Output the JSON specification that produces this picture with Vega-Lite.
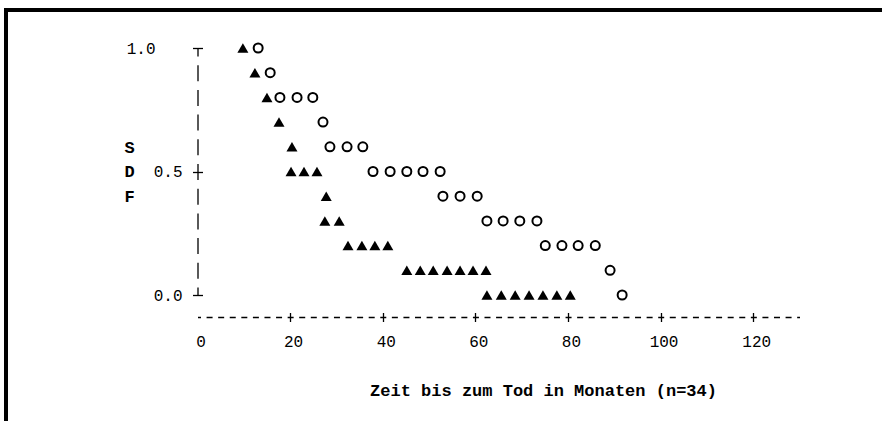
{
  "$schema": "https://vega.github.io/schema/vega-lite/v6.json",
  "autosize": {"type": "none"},
  "padding": {"left": 6, "top": 10, "right": 0, "bottom": 0},
  "width": 876,
  "height": 411,
  "background": "white",
  "config": {
    "view": {"stroke": null}
  },
  "data": {
    "values": [
      {"monate": 9.8, "sdf": 1.0, "gruppe": "A"},
      {"monate": 12.4, "sdf": 0.9, "gruppe": "A"},
      {"monate": 15.0, "sdf": 0.8, "gruppe": "A"},
      {"monate": 17.6, "sdf": 0.7, "gruppe": "A"},
      {"monate": 20.4, "sdf": 0.6, "gruppe": "A"},
      {"monate": 20.2, "sdf": 0.5, "gruppe": "A"},
      {"monate": 23.0, "sdf": 0.5, "gruppe": "A"},
      {"monate": 25.8, "sdf": 0.5, "gruppe": "A"},
      {"monate": 27.8, "sdf": 0.4, "gruppe": "A"},
      {"monate": 27.5, "sdf": 0.3, "gruppe": "A"},
      {"monate": 30.6, "sdf": 0.3, "gruppe": "A"},
      {"monate": 32.5, "sdf": 0.2, "gruppe": "A"},
      {"monate": 35.5, "sdf": 0.2, "gruppe": "A"},
      {"monate": 38.3, "sdf": 0.2, "gruppe": "A"},
      {"monate": 41.1, "sdf": 0.2, "gruppe": "A"},
      {"monate": 45.2, "sdf": 0.1, "gruppe": "A"},
      {"monate": 48.1, "sdf": 0.1, "gruppe": "A"},
      {"monate": 50.9, "sdf": 0.1, "gruppe": "A"},
      {"monate": 53.9, "sdf": 0.1, "gruppe": "A"},
      {"monate": 56.7, "sdf": 0.1, "gruppe": "A"},
      {"monate": 59.5, "sdf": 0.1, "gruppe": "A"},
      {"monate": 62.3, "sdf": 0.1, "gruppe": "A"},
      {"monate": 62.5, "sdf": 0.0, "gruppe": "A"},
      {"monate": 65.6, "sdf": 0.0, "gruppe": "A"},
      {"monate": 68.6, "sdf": 0.0, "gruppe": "A"},
      {"monate": 71.6, "sdf": 0.0, "gruppe": "A"},
      {"monate": 74.6, "sdf": 0.0, "gruppe": "A"},
      {"monate": 77.6, "sdf": 0.0, "gruppe": "A"},
      {"monate": 80.5, "sdf": 0.0, "gruppe": "A"},
      {"monate": 13.1, "sdf": 1.0, "gruppe": "B"},
      {"monate": 15.7, "sdf": 0.9, "gruppe": "B"},
      {"monate": 17.8, "sdf": 0.8, "gruppe": "B"},
      {"monate": 21.5, "sdf": 0.8, "gruppe": "B"},
      {"monate": 24.9, "sdf": 0.8, "gruppe": "B"},
      {"monate": 27.1, "sdf": 0.7, "gruppe": "B"},
      {"monate": 28.6, "sdf": 0.6, "gruppe": "B"},
      {"monate": 32.3, "sdf": 0.6, "gruppe": "B"},
      {"monate": 35.7, "sdf": 0.6, "gruppe": "B"},
      {"monate": 37.9, "sdf": 0.5, "gruppe": "B"},
      {"monate": 41.6, "sdf": 0.5, "gruppe": "B"},
      {"monate": 45.2, "sdf": 0.5, "gruppe": "B"},
      {"monate": 48.7, "sdf": 0.5, "gruppe": "B"},
      {"monate": 52.4, "sdf": 0.5, "gruppe": "B"},
      {"monate": 53.0, "sdf": 0.4, "gruppe": "B"},
      {"monate": 56.7, "sdf": 0.4, "gruppe": "B"},
      {"monate": 60.4, "sdf": 0.4, "gruppe": "B"},
      {"monate": 62.5, "sdf": 0.3, "gruppe": "B"},
      {"monate": 66.0, "sdf": 0.3, "gruppe": "B"},
      {"monate": 69.6, "sdf": 0.3, "gruppe": "B"},
      {"monate": 73.3, "sdf": 0.3, "gruppe": "B"},
      {"monate": 75.1, "sdf": 0.2, "gruppe": "B"},
      {"monate": 78.7, "sdf": 0.2, "gruppe": "B"},
      {"monate": 82.2, "sdf": 0.2, "gruppe": "B"},
      {"monate": 85.9, "sdf": 0.2, "gruppe": "B"},
      {"monate": 89.1, "sdf": 0.1, "gruppe": "B"},
      {"monate": 91.7, "sdf": 0.0, "gruppe": "B"}
    ]
  },
  "layer": [
    {
      "transform": [{"filter": "datum.gruppe === 'A'"}],
      "mark": {"type": "point", "shape": "triangle-up", "filled": true, "size": 121, "color": "black", "opacity": 1},
      "encoding": {
        "x": {
          "field": "monate", "type": "quantitative",
          "scale": {"domain": [0, 130], "range": [191.5, 793.5], "nice": false, "zero": false},
          "axis": {
            "orient": "bottom", "offset": -104,
            "values": [0, 20, 40, 60, 80, 100, 120],
            "grid": false,
            "domain": true, "domainColor": "black", "domainWidth": 1.3, "domainDash": [6, 5.58], "domainDashOffset": 3,
            "ticks": true, "tickSize": 4.5, "tickWidth": 1.3, "tickColor": "black",
            "tickOpacity": {"condition": {"test": "datum.value === 0", "value": 0}, "value": 1},
            "labelFont": "Liberation Mono", "labelFontSize": 16, "labelColor": "black",
            "labelPadding": 12, "labelOffset": 3, "labelFlush": false, "labelOverlap": false,
            "title": "Zeit bis zum Tod in Monaten (n=34)",
            "titleFont": "Liberation Mono", "titleFontSize": 17, "titleFontWeight": "bold", "titleColor": "black",
            "titleX": 537, "titleY": 73, "titleBaseline": "middle", "titleAlign": "center", "titleAngle": 0
          }
        },
        "y": {
          "field": "sdf", "type": "quantitative",
          "scale": {"domain": [0, 1], "range": [285, 38], "nice": false, "zero": false},
          "axis": {
            "orient": "left", "offset": -191.5,
            "values": [0, 0.5, 1],
            "grid": false,
            "domain": true, "domainColor": "black", "domainWidth": 1.3, "domainDash": [16, 8.7], "domainDashOffset": 8,
            "ticks": true, "tickSize": 5, "tickWidth": 1.3, "tickColor": "black",
            "format": ".1f",
            "labelFont": "Liberation Mono", "labelFontSize": 16, "labelColor": "black",
            "labelPadding": {"condition": {"test": "datum.value === 1", "value": 37.5}, "value": 10.5},
            "labelAlign": "right", "labelBaseline": "middle", "labelOverlap": false, "labelFlush": false,
            "title": ["S", "D", "F"],
            "titleFont": "Liberation Mono", "titleFontSize": 17, "titleFontWeight": "bold", "titleColor": "black",
            "titleAngle": 0, "titleX": -68.5, "titleY": 137.3, "titleBaseline": "middle", "titleAlign": "center",
            "titleLineHeight": 24.7
          }
        }
      }
    },
    {
      "transform": [{"filter": "datum.gruppe === 'B'"}],
      "mark": {"type": "point", "shape": "circle", "filled": false, "size": 81, "color": "black", "strokeWidth": 2, "opacity": 1},
      "encoding": {
        "x": {
          "field": "monate", "type": "quantitative",
          "scale": {"domain": [0, 130], "range": [191.5, 793.5], "nice": false, "zero": false},
          "axis": {
            "orient": "top", "offset": -307,
            "values": [20, 40, 60, 80, 100, 120],
            "grid": false, "domain": false, "labels": false,
            "ticks": true, "tickSize": 4.5, "tickWidth": 1.3, "tickColor": "black",
            "title": null
          }
        },
        "y": {
          "field": "sdf", "type": "quantitative",
          "scale": {"domain": [0, 1], "range": [285, 38], "nice": false, "zero": false},
          "axis": {
            "orient": "right", "offset": -684.5,
            "values": [0, 0.5, 1],
            "grid": false, "domain": false, "labels": false,
            "ticks": true, "tickSize": 5, "tickWidth": 1.3, "tickColor": "black",
            "title": null
          }
        }
      }
    },
    {
      "mark": {"type": "rule", "color": "black", "strokeWidth": 3, "strokeCap": "butt"},
      "encoding": {
        "x": {"datum": -41.35, "type": "quantitative", "axis": null},
        "y": {"datum": 1.1538, "type": "quantitative", "axis": null},
        "y2": {"datum": -0.53}
      }
    },
    {
      "mark": {"type": "rule", "color": "black", "strokeWidth": 3, "strokeCap": "butt"},
      "encoding": {
        "y": {"datum": 1.1538, "type": "quantitative", "axis": null},
        "x": {"datum": -41.65, "type": "quantitative", "axis": null},
        "x2": {"datum": 150}
      }
    }
  ],
  "resolve": {"axis": {"x": "independent", "y": "independent"}}
}
